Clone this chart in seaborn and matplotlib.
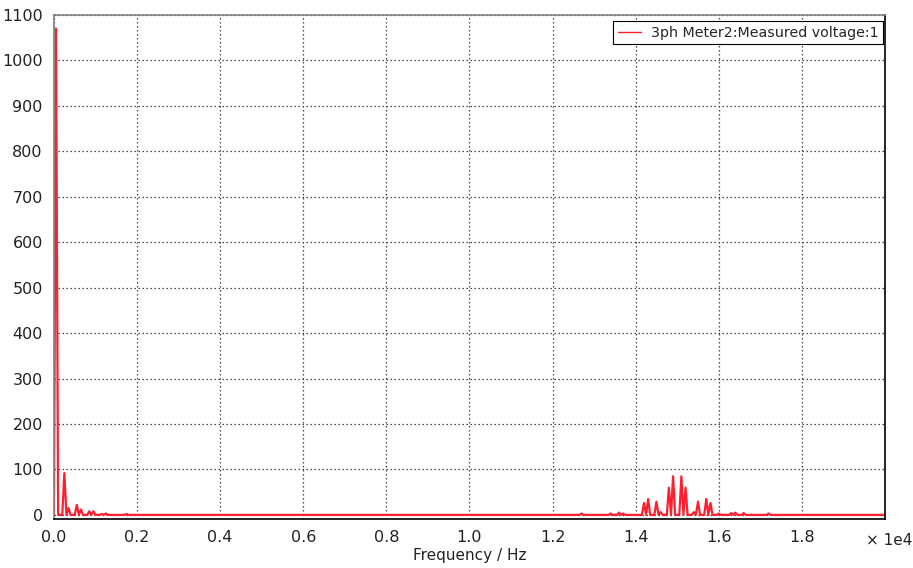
import numpy as np
import pandas as pd
import matplotlib
matplotlib.use("Agg")
import matplotlib.pyplot as plt
import seaborn as sns

# --- Spectre (bins de 50 Hz, 0..20000 Hz) ---
bin_hz = 50
f_max = 20000

# pics (fréquence en Hz, amplitude)
peak_freqs = [50, 250, 350, 550, 650, 850, 950, 1150, 1250, 1750,
              12700, 13400, 13600, 13700,
              14200, 14300, 14500, 14600, 14800, 14900, 15100, 15200,
              15400, 15500, 15700, 15800,
              16000, 16300, 16400, 16600, 17200]
peak_vals = [1070, 92, 15, 22, 12, 8, 8, 2, 3, 2,
             3, 3, 5, 3,
             26, 35, 29, 6, 60, 85, 85, 60,
             6, 29, 35, 26,
             3, 4, 5, 4, 3]

xtick_pos = [0, 2000, 4000, 6000, 8000, 10000, 12000, 14000, 16000, 18000]
xtick_labels = ["0.0", "0.2", "0.4", "0.6", "0.8", "1.0", "1.2", "1.4", "1.6", "1.8"]
ytick_pos = [0, 100, 200, 300, 400, 500, 600, 700, 800, 900, 1000, 1100]

freqs = np.arange(0, f_max + bin_hz, bin_hz)
amps = np.zeros_like(freqs, dtype=float)
for f, v in zip(peak_freqs, peak_vals):
    amps[int(round(f / bin_hz))] = v
df = pd.DataFrame({"freq": freqs, "amp": amps})

# --- Figure ---
sns.set_style("white")
plt.rcParams["font.family"] = ["DejaVu Sans"]
fig = plt.figure(figsize=(9.13, 5.68), dpi=100)
ax = fig.add_axes([0.0591, 0.0863, 0.9102, 0.8873])

sns.lineplot(data=df, x="freq", y="amp", ax=ax, color="#ff1f2f", linewidth=1.6,
             label="3ph Meter2:Measured voltage:1")

ax.set_xlim(0, f_max)
ax.set_ylim(-9, 1100)
ax.set_xticks(xtick_pos)
ax.set_xticklabels(xtick_labels)
ax.set_yticks(ytick_pos)
ax.tick_params(axis="both", direction="out", length=5, width=1, color="#808080",
               labelsize=11.5, labelcolor="#222222", pad=3)
ax.grid(True, linestyle=(0, (1.2, 2)), color="#444444", linewidth=0.9)

ax.spines["left"].set_color("#808080")
ax.spines["top"].set_color("#808080")
ax.spines["bottom"].set_color("black")
ax.spines["right"].set_color("black")
for s in ax.spines.values():
    s.set_linewidth(1.2)

ax.set_xlabel("Frequency / Hz", fontsize=11, color="#222222", labelpad=2)
ax.set_ylabel("")
ax.text(1.005, -0.042, "× 1e4", transform=ax.transAxes, ha="center", va="center",
        fontsize=11, color="#222222")

leg = ax.legend(loc="upper right", bbox_to_anchor=(0.999, 0.99), fontsize=10.3,
                frameon=True, fancybox=False, framealpha=1, edgecolor="black",
                handlelength=1.6, borderpad=0.3, handletextpad=0.7,
                borderaxespad=0.1)
leg.get_frame().set_linewidth(0.8)
leg.get_lines()[0].set_linewidth(1.0)

fig.savefig("out.png", dpi=100)
